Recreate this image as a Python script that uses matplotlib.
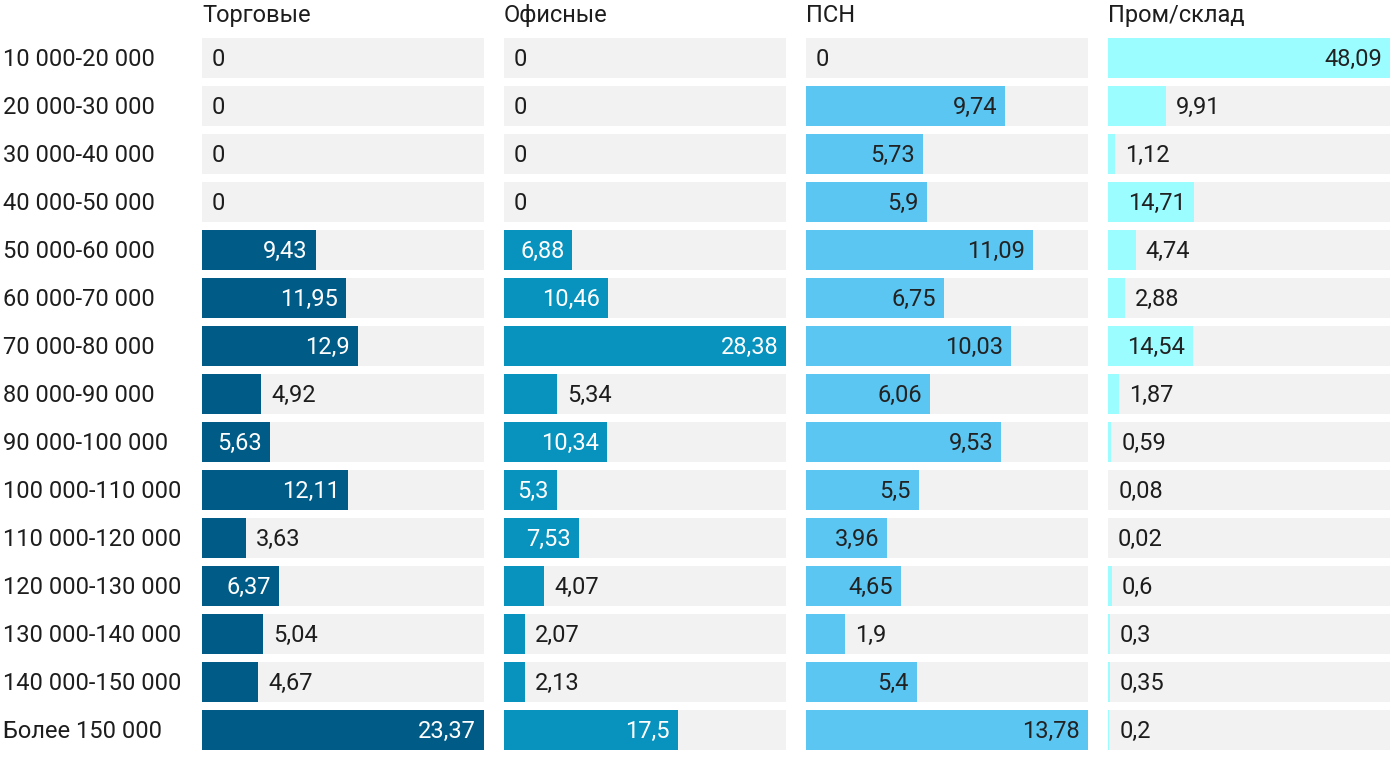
#!/usr/bin/env python3
"""Split bars: share of lots by price range for four property types."""

import matplotlib
matplotlib.use("Agg")
import matplotlib.pyplot as plt

plt.rcParams["font.family"] = ["Roboto", "DejaVu Sans"]

ranges = [
    "10 000-20 000", "20 000-30 000", "30 000-40 000", "40 000-50 000",
    "50 000-60 000", "60 000-70 000", "70 000-80 000", "80 000-90 000",
    "90 000-100 000", "100 000-110 000", "110 000-120 000", "120 000-130 000",
    "130 000-140 000", "140 000-150 000", "Более 150 000",
]
titles = ["Торговые", "Офисные", "ПСН", "Пром/склад"]
trade = [0, 0, 0, 0, 9.43, 11.95, 12.9, 4.92, 5.63, 12.11, 3.63, 6.37, 5.04, 4.67, 23.37]
office = [0, 0, 0, 0, 6.88, 10.46, 28.38, 5.34, 10.34, 5.3, 7.53, 4.07, 2.07, 2.13, 17.5]
psn = [0, 9.74, 5.73, 5.9, 11.09, 6.75, 10.03, 6.06, 9.53, 5.5, 3.96, 4.65, 1.9, 5.4, 13.78]
indust = [48.09, 9.91, 1.12, 14.71, 4.74, 2.88, 14.54, 1.87, 0.59, 0.08, 0.02, 0.6, 0.3, 0.35, 0.2]
series = [trade, office, psn, indust]

colors = ["#005c87", "#0793be", "#5cc6f2", "#9bfdff"]
inside_text = ["white", "white", "#222222", "#222222"]
TEXT = "#1d1d1d"
BG = "#f2f2f2"
W, H = 1400, 766
FS = 17
# baseline sits this many px below the row centre so digits look centred
BASE_OFF = 0.355 * FS * 100 / 72


def fmt(v):
    return f"{v:g}".replace(".", ",")


def main():
    fig = plt.figure(figsize=(W / 100, H / 100), dpi=100)
    fig.patch.set_facecolor("white")
    renderer = fig.canvas.get_renderer()

    col_w = 282
    col_x = [202, 504, 806, 1108]
    top, row_h = 34, 48
    n = len(ranges)
    ax_h = row_h * n
    dy = BASE_OFF / row_h

    for k, (vals, x0) in enumerate(zip(series, col_x)):
        ax = fig.add_axes([x0 / W, 1 - (top + ax_h) / H, col_w / W, ax_h / H])
        vmax = max(vals)
        ax.set_xlim(0, vmax)
        ax.set_ylim(n - 0.5, -0.5)
        ax.axis("off")
        ys = list(range(n))
        ax.barh(ys, [vmax] * n, height=40 / 48, color=BG, linewidth=0)
        ax.barh(ys, vals, height=40 / 48, color=colors[k], linewidth=0)
        px_per = col_w / vmax
        for i, v in enumerate(vals):
            label = fmt(v)
            t = ax.text(0, i + dy, label, fontsize=FS, va="baseline", ha="left",
                        color=TEXT)
            tw = t.get_window_extent(renderer).width
            bar_px = v * px_per
            if v > 0 and bar_px >= tw + 20:
                t.set_x(v - 8 / px_per)
                t.set_ha("right")
                t.set_color(inside_text[k])
            else:
                t.set_x(v + 10 / px_per)
        fig.text(x0 / W, 1 - 22 / H, titles[k], fontsize=FS, va="baseline",
                 ha="left", color=TEXT)

    for i, r in enumerate(ranges):
        fig.text(3 / W, 1 - (58 + row_h * i + BASE_OFF) / H, r, fontsize=FS,
                 va="baseline", ha="left", color=TEXT)

    fig.savefig("out.png", dpi=100)


if __name__ == "__main__":
    main()
